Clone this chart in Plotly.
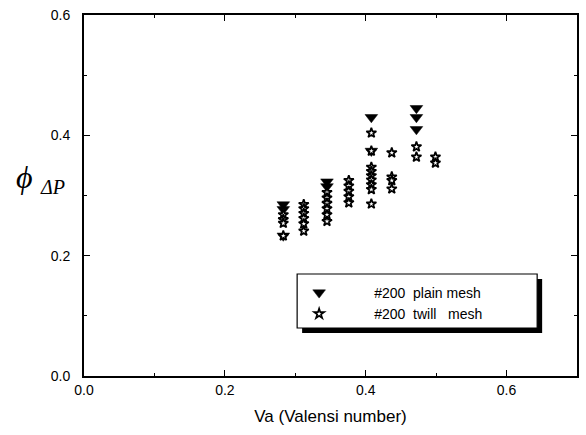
import plotly.graph_objects as go

# #200 plain mesh: Valensi number vs. pressure-drop coefficient
plain_va = [0.283, 0.283, 0.283, 0.345, 0.345, 0.408, 0.408, 0.472, 0.472, 0.472]
plain_phi = [0.285, 0.277, 0.233, 0.323, 0.315, 0.430, 0.374, 0.445, 0.430, 0.410]

# #200 twill mesh
twill_va = [0.283, 0.283, 0.283, 0.283,
            0.312, 0.312, 0.312, 0.312, 0.312, 0.312,
            0.345, 0.345, 0.345, 0.345, 0.345, 0.345,
            0.376, 0.376, 0.376, 0.376, 0.376,
            0.408, 0.408, 0.408, 0.408, 0.408, 0.408, 0.408, 0.408, 0.408,
            0.437, 0.437, 0.437, 0.437,
            0.472, 0.472,
            0.499, 0.499]
twill_phi = [0.268, 0.260, 0.254, 0.233,
             0.285, 0.278, 0.270, 0.262, 0.253, 0.241,
             0.305, 0.296, 0.287, 0.278, 0.268, 0.257,
             0.325, 0.316, 0.307, 0.298, 0.288,
             0.404, 0.374, 0.347, 0.340, 0.333, 0.326, 0.318, 0.310, 0.286,
             0.371, 0.331, 0.325, 0.311,
             0.381, 0.364,
             0.364, 0.354]

x_ticks = [0.0, 0.2, 0.4, 0.6]
y_ticks = [0.0, 0.2, 0.4, 0.6]

NB = "\u00a0"
fig = go.Figure()
fig.add_trace(go.Scatter(
    x=plain_va, y=plain_phi, mode="markers",
    name=NB * 9 + "#200" + NB * 2 + "plain mesh",
    marker=dict(symbol="triangle-down", size=11, color="black",
                line=dict(color="black", width=0.5)),
))
fig.add_trace(go.Scatter(
    x=twill_va, y=twill_phi, mode="markers",
    name=NB * 9 + "#200" + NB * 2 + "twill" + NB * 3 + "mesh",
    marker=dict(symbol="star", size=7.5, color="white",
                line=dict(color="black", width=1.7)),
))

axis_common = dict(
    showgrid=False, zeroline=False,
    showline=True, linecolor="black", linewidth=1.8, mirror="ticks",
    ticks="inside", ticklen=6, tickwidth=1.4, tickcolor="black",
    tickformat=".1f",
    tickfont=dict(family="Liberation Sans, Arial", size=14, color="black"),
    minor=dict(dtick=0.1, ticks="inside", ticklen=3, tickwidth=1.2, tickcolor="black"),
)

fig.update_xaxes(range=[0, 0.7], tickvals=x_ticks, **axis_common,
                 title=dict(text="Va (Valensi number)", standoff=13,
                            font=dict(family="Liberation Sans, Arial", size=17, color="black")))
fig.update_yaxes(range=[0, 0.6], tickvals=y_ticks, ticklabelstandoff=9, **axis_common)

# legend frame with drop shadow
def px_x(p):
    return (p - 84) / 495

def px_y(p):
    return (376 - p) / 361

box = dict(x0=px_x(298), x1=px_x(539), y0=px_y(328), y1=px_y(274))
fig.add_shape(type="rect", xref="paper", yref="paper",
              x0=box["x0"] + 5 / 495, x1=box["x1"] + 5 / 495,
              y0=box["y0"] - 5 / 361, y1=box["y1"] - 5 / 361,
              fillcolor="black", line=dict(width=0), layer="above")
fig.add_shape(type="rect", xref="paper", yref="paper", **box,
              fillcolor="white", line=dict(color="black", width=1.2), layer="above")

# y-axis title: phi with subscript Delta P
fig.add_annotation(xref="paper", yref="paper", x=px_x(14), y=px_y(177),
                   text="<i>ϕ</i>", showarrow=False,
                   font=dict(family="Liberation Serif, Times New Roman, serif", size=32, color="black"))
fig.add_annotation(xref="paper", yref="paper", x=px_x(38), y=px_y(187),
                   text="<i>ΔP</i>", showarrow=False,
                   font=dict(family="Liberation Serif, Times New Roman, serif", size=20, color="black"))

fig.update_layout(
    width=586, height=435,
    margin=dict(l=84, r=7, t=15, b=59),
    paper_bgcolor="white", plot_bgcolor="white",
    showlegend=True,
    legend=dict(x=px_x(300), y=px_y(277), xanchor="left", yanchor="top",
                bgcolor="rgba(0,0,0,0)", borderwidth=0,
                font=dict(family="Liberation Sans, Arial", size=14, color="black"),
                tracegroupgap=0),
)

fig.write_html("out.html")
